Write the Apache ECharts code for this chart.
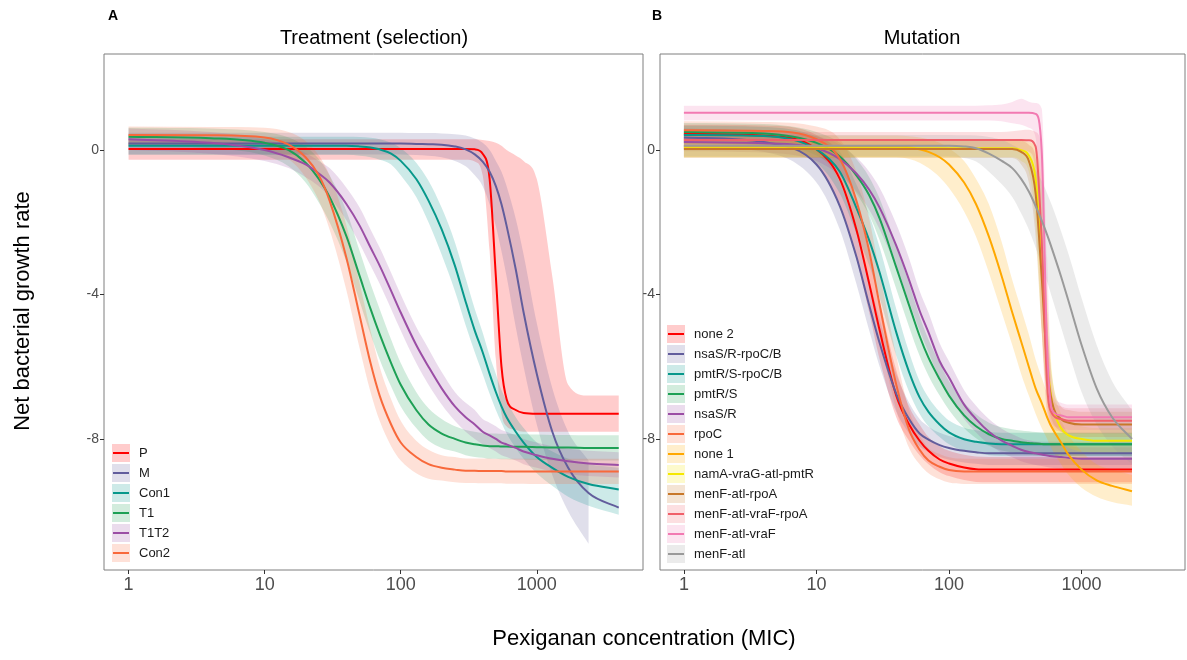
<!DOCTYPE html>
<html>
<head>
<meta charset="utf-8">
<script src="https://cdn.jsdelivr.net/npm/echarts@6/dist/echarts.min.js"></script>
<style>
  html, body { margin: 0; padding: 0; background: #ffffff; }
  #chart { width: 1187px; height: 660px; }
</style>
</head>
<body>
<div id="chart"></div>
<script>
// Pexiganan concentrations (MIC multiples) at which the fitted curves are tabulated
const conc = [1, 4, 10, 15, 20, 25, 30, 40, 50, 60, 70, 85, 100, 130, 160, 200, 250, 300, 350, 400, 450, 500, 550, 600, 700, 800, 1000, 1300, 1700, 2400, 4000];

const xTicks = [1, 10, 100, 1000];
const yTicks = [-8, -4, 0];

// Each row: [fitted growth rate, lower CI, upper CI], one row per concentration
// ---- Panel A: treatment (selection) ----
const P = [
  [0.03,-0.27,0.3],[0.03,-0.27,0.3],[0.03,-0.27,0.3],[0.03,-0.27,0.3],[0.03,-0.27,0.3],[0.03,-0.27,0.3],
  [0.03,-0.27,0.3],[0.03,-0.27,0.3],[0.03,-0.27,0.3],[0.03,-0.27,0.3],[0.03,-0.27,0.3],[0.03,-0.27,0.3],
  [0.03,-0.27,0.3],[0.03,-0.27,0.3],[0.03,-0.27,0.3],[0.03,-0.27,0.3],[0.03,-0.27,0.3],[0.03,-0.27,0.3],
  [0.02,-0.32,0.3],[-0.1,-0.7,0.28],[-0.8,-2.8,0.25],[-3.5,-5.8,0.2],[-6.0,-7.3,0.12],[-6.9,-7.65,0.0],
  [-7.2,-7.75,-0.15],[-7.28,-7.8,-0.3],[-7.3,-7.8,-0.8],[-7.3,-7.8,-3.5],[-7.3,-7.8,-6.5],[-7.3,-7.8,-6.8],[-7.3,-7.8,-6.8]
];
const M = [
  [0.18,-0.12,0.48],[0.18,-0.12,0.48],[0.18,-0.12,0.48],[0.18,-0.12,0.48],[0.18,-0.12,0.48],[0.18,-0.12,0.48],
  [0.18,-0.12,0.48],[0.18,-0.12,0.48],[0.18,-0.12,0.48],[0.18,-0.12,0.48],[0.18,-0.12,0.48],[0.18,-0.12,0.48],
  [0.18,-0.12,0.48],[0.17,-0.14,0.47],[0.16,-0.16,0.47],[0.15,-0.2,0.46],[0.1,-0.3,0.44],[0.02,-0.45,0.4],
  [-0.12,-0.7,0.32],[-0.32,-1.0,0.2],[-0.6,-1.5,0.0],[-1.0,-2.1,-0.3],[-1.5,-2.8,-0.6],[-2.1,-3.5,-1.0],
  [-3.3,-4.9,-1.9],[-4.5,-6.0,-2.9],[-6.2,-7.6,-4.8],[-7.8,-9.0,-6.6],[-8.8,-10.0,-7.8],[-9.5,-10.9,-8.6],[-9.9,null,null]
];
const Con1 = [
  [0.12,-0.13,0.37],[0.12,-0.13,0.37],[0.12,-0.13,0.37],[0.12,-0.13,0.37],[0.12,-0.13,0.37],[0.12,-0.13,0.37],
  [0.12,-0.13,0.37],[0.12,-0.13,0.37],[0.1,-0.16,0.36],[0.07,-0.2,0.34],[0.02,-0.27,0.3],[-0.1,-0.4,0.2],
  [-0.3,-0.7,0.05],[-0.8,-1.3,-0.35],[-1.4,-2.0,-0.85],[-2.2,-2.9,-1.6],[-3.2,-3.9,-2.55],[-4.2,-4.85,-3.55],
  [-5.0,-5.6,-4.4],[-5.6,-6.2,-5.05],[-6.2,-6.75,-5.7],[-6.7,-7.2,-6.2],[-7.1,-7.55,-6.65],[-7.4,-7.85,-6.95],
  [-7.8,-8.25,-7.4],[-8.1,-8.55,-7.7],[-8.5,-8.95,-8.1],[-8.8,-9.3,-8.35],[-9.05,-9.6,-8.55],[-9.25,-9.85,-8.7],[-9.4,-10.1,-8.8]
];
const T1 = [
  [0.37,0.12,0.62],[0.33,0.05,0.6],[0.2,-0.15,0.5],[0.0,-0.45,0.35],[-0.35,-0.9,0.1],[-0.8,-1.45,-0.25],
  [-1.3,-2.0,-0.7],[-2.4,-3.1,-1.7],[-3.5,-4.2,-2.8],[-4.4,-5.1,-3.7],[-5.1,-5.8,-4.4],[-5.9,-6.55,-5.25],
  [-6.5,-7.1,-5.9],[-7.2,-7.7,-6.7],[-7.6,-8.05,-7.15],[-7.85,-8.25,-7.45],[-8.0,-8.35,-7.65],[-8.1,-8.45,-7.75],
  [-8.15,-8.5,-7.8],[-8.18,-8.52,-7.84],[-8.2,-8.55,-7.85],[-8.2,-8.55,-7.85],[-8.21,-8.56,-7.86],[-8.21,-8.56,-7.86],
  [-8.22,-8.57,-7.87],[-8.22,-8.57,-7.87],[-8.23,-8.58,-7.88],[-8.24,-8.59,-7.89],[-8.24,-8.59,-7.89],[-8.25,-8.6,-7.9],[-8.25,-8.6,-7.9]
];
const T1T2 = [
  [0.3,0.0,0.6],[0.2,-0.1,0.5],[0.0,-0.3,0.3],[-0.2,-0.5,0.1],[-0.4,-0.75,-0.08],[-0.65,-1.0,-0.3],
  [-0.9,-1.3,-0.5],[-1.5,-1.95,-1.05],[-2.1,-2.6,-1.6],[-2.7,-3.2,-2.2],[-3.2,-3.7,-2.7],[-3.9,-4.4,-3.4],
  [-4.5,-5.0,-4.0],[-5.4,-5.9,-4.9],[-6.0,-6.5,-5.5],[-6.6,-7.05,-6.15],[-7.1,-7.5,-6.7],[-7.4,-7.8,-7.0],
  [-7.6,-8.0,-7.2],[-7.8,-8.15,-7.45],[-7.9,-8.25,-7.55],[-8.0,-8.35,-7.65],[-8.1,-8.45,-7.75],[-8.15,-8.5,-7.8],
  [-8.25,-8.6,-7.9],[-8.35,-8.7,-8.0],[-8.45,-8.8,-8.1],[-8.55,-8.9,-8.2],[-8.62,-8.97,-8.27],[-8.68,-9.03,-8.33],[-8.72,-9.07,-8.37]
];
const Con2 = [
  [0.42,0.15,0.65],[0.41,0.15,0.64],[0.35,0.05,0.62],[0.15,-0.25,0.5],[-0.2,-0.75,0.25],[-0.7,-1.4,-0.15],
  [-1.4,-2.2,-0.7],[-3.0,-3.9,-2.1],[-4.6,-5.5,-3.7],[-5.9,-6.7,-5.0],[-6.8,-7.5,-6.0],[-7.6,-8.2,-6.9],
  [-8.1,-8.6,-7.5],[-8.5,-8.95,-8.05],[-8.7,-9.1,-8.3],[-8.8,-9.15,-8.45],[-8.85,-9.2,-8.5],[-8.88,-9.22,-8.54],
  [-8.88,-9.22,-8.54],[-8.89,-9.23,-8.54],[-8.89,-9.23,-8.54],[-8.89,-9.23,-8.55],[-8.89,-9.23,-8.55],[-8.9,-9.24,-8.55],
  [-8.9,-9.24,-8.55],[-8.9,-9.24,-8.55],[-8.9,-9.25,-8.55],[-8.9,-9.25,-8.55],[-8.9,-9.25,-8.55],[-8.9,-9.25,-8.55],[-8.9,-9.25,-8.55]
];

// ---- Panel B: mutation (tabulated up to 2400) ----
const none2 = [
  [0.45,0.2,0.7],[0.4,0.12,0.68],[0.02,-0.4,0.42],[-0.8,-1.5,-0.15],[-2.2,-3.0,-1.4],[-3.7,-4.5,-2.9],
  [-5.0,-5.8,-4.2],[-6.8,-7.4,-6.1],[-7.6,-8.05,-7.1],[-8.05,-8.45,-7.6],[-8.33,-8.7,-7.95],[-8.57,-8.92,-8.2],
  [-8.68,-9.03,-8.33],[-8.79,-9.14,-8.44],[-8.84,-9.19,-8.49],[-8.85,-9.2,-8.5],[-8.85,-9.2,-8.5],[-8.85,-9.2,-8.5],
  [-8.85,-9.2,-8.5],[-8.85,-9.2,-8.5],[-8.85,-9.2,-8.5],[-8.85,-9.2,-8.5],[-8.85,-9.2,-8.5],[-8.85,-9.2,-8.5],
  [-8.85,-9.2,-8.5],[-8.85,-9.2,-8.5],[-8.85,-9.2,-8.5],[-8.85,-9.2,-8.5],[-8.85,-9.2,-8.5],[-8.85,-9.2,-8.5]
];
const nsaSRrpoCB = [
  [0.35,0.1,0.6],[0.22,-0.05,0.5],[-0.4,-0.9,0.05],[-1.55,-2.2,-0.9],[-2.95,-3.7,-2.25],[-4.3,-5.0,-3.6],
  [-5.35,-6.0,-4.7],[-6.75,-7.25,-6.2],[-7.45,-7.85,-7.0],[-7.85,-8.2,-7.45],[-8.02,-8.36,-7.66],[-8.17,-8.5,-7.83],
  [-8.25,-8.58,-7.92],[-8.33,-8.65,-8.0],[-8.37,-8.69,-8.05],[-8.4,-8.72,-8.08],[-8.4,-8.72,-8.08],[-8.4,-8.72,-8.08],
  [-8.4,-8.72,-8.08],[-8.4,-8.72,-8.08],[-8.4,-8.72,-8.08],[-8.4,-8.72,-8.08],[-8.4,-8.72,-8.08],[-8.4,-8.72,-8.08],
  [-8.4,-8.72,-8.08],[-8.4,-8.72,-8.08],[-8.4,-8.72,-8.08],[-8.4,-8.72,-8.08],[-8.4,-8.72,-8.08],[-8.4,-8.72,-8.08]
];
const pmtRSrpoCB = [
  [0.42,0.17,0.67],[0.39,0.14,0.64],[0.02,-0.35,0.38],[-0.6,-1.2,-0.05],[-1.6,-2.3,-0.95],[-2.5,-3.2,-1.8],
  [-3.4,-4.1,-2.7],[-5.05,-5.7,-4.4],[-6.15,-6.7,-5.6],[-6.85,-7.3,-6.4],[-7.25,-7.65,-6.85],[-7.6,-7.95,-7.25],
  [-7.82,-8.15,-7.49],[-8.01,-8.33,-7.69],[-8.08,-8.4,-7.76],[-8.13,-8.45,-7.81],[-8.15,-8.47,-7.83],[-8.15,-8.47,-7.83],
  [-8.15,-8.47,-7.83],[-8.15,-8.47,-7.83],[-8.15,-8.47,-7.83],[-8.15,-8.47,-7.83],[-8.15,-8.47,-7.83],[-8.15,-8.47,-7.83],
  [-8.15,-8.47,-7.83],[-8.15,-8.47,-7.83],[-8.15,-8.47,-7.83],[-8.15,-8.47,-7.83],[-8.15,-8.47,-7.83],[-8.15,-8.47,-7.83]
];
const pmtRS = [
  [0.5,0.25,0.75],[0.46,0.2,0.72],[0.2,-0.15,0.5],[-0.18,-0.6,0.2],[-0.7,-1.2,-0.25],[-1.25,-1.8,-0.75],
  [-1.9,-2.5,-1.35],[-3.25,-3.85,-2.65],[-4.3,-4.9,-3.7],[-5.15,-5.7,-4.6],[-5.75,-6.25,-5.25],[-6.35,-6.8,-5.9],
  [-6.8,-7.2,-6.4],[-7.35,-7.7,-7.0],[-7.65,-7.98,-7.32],[-7.87,-8.19,-7.55],[-8.0,-8.32,-7.68],[-8.05,-8.37,-7.73],
  [-8.09,-8.41,-7.77],[-8.11,-8.43,-7.79],[-8.13,-8.45,-7.81],[-8.14,-8.46,-7.82],[-8.15,-8.47,-7.83],[-8.15,-8.47,-7.83],
  [-8.15,-8.47,-7.83],[-8.15,-8.47,-7.83],[-8.15,-8.47,-7.83],[-8.15,-8.47,-7.83],[-8.15,-8.47,-7.83],[-8.15,-8.47,-7.83]
];
const nsaSR = [
  [0.22,-0.03,0.47],[0.19,-0.07,0.45],[0.05,-0.3,0.38],[-0.25,-0.7,0.15],[-0.65,-1.15,-0.2],[-1.1,-1.65,-0.6],
  [-1.6,-2.2,-1.05],[-2.65,-3.25,-2.05],[-3.6,-4.2,-3.0],[-4.45,-5.0,-3.9],[-5.05,-5.6,-4.5],[-5.85,-6.35,-5.35],
  [-6.3,-6.75,-5.85],[-7.05,-7.45,-6.65],[-7.45,-7.82,-7.08],[-7.8,-8.15,-7.45],[-8.05,-8.38,-7.72],[-8.19,-8.51,-7.87],
  [-8.3,-8.62,-7.98],[-8.36,-8.68,-8.04],[-8.4,-8.72,-8.08],[-8.43,-8.75,-8.11],[-8.46,-8.78,-8.14],[-8.48,-8.8,-8.16],
  [-8.5,-8.82,-8.18],[-8.52,-8.84,-8.2],[-8.55,-8.87,-8.23],[-8.55,-8.87,-8.23],[-8.55,-8.87,-8.23],[-8.55,-8.87,-8.23]
];
const rpoC = [
  [0.55,0.3,0.8],[0.53,0.28,0.78],[0.3,-0.1,0.65],[-0.25,-0.9,0.3],[-1.4,-2.3,-0.6],[-2.8,-3.8,-1.9],
  [-4.3,-5.2,-3.4],[-6.5,-7.2,-5.7],[-7.75,-8.25,-7.2],[-8.3,-8.7,-7.9],[-8.6,-8.95,-8.25],[-8.77,-9.12,-8.42],
  [-8.86,-9.21,-8.51],[-8.9,-9.25,-8.55],[-8.9,-9.25,-8.55],[-8.9,-9.25,-8.55],[-8.9,-9.25,-8.55],[-8.9,-9.25,-8.55],
  [-8.9,-9.25,-8.55],[-8.9,-9.25,-8.55],[-8.9,-9.25,-8.55],[-8.9,-9.25,-8.55],[-8.9,-9.25,-8.55],[-8.9,-9.25,-8.55],
  [-8.9,-9.25,-8.55],[-8.9,-9.25,-8.55],[-8.9,-9.25,-8.55],[-8.9,-9.25,-8.55],[-8.9,-9.25,-8.55],[-8.9,-9.25,-8.55]
];
const none1 = [
  [0.1,-0.2,0.4],[0.1,-0.2,0.4],[0.1,-0.2,0.4],[0.1,-0.2,0.4],[0.1,-0.2,0.4],[0.1,-0.2,0.4],
  [0.1,-0.2,0.4],[0.1,-0.2,0.4],[0.08,-0.25,0.38],[0.02,-0.35,0.35],[-0.05,-0.5,0.3],[-0.2,-0.75,0.2],
  [-0.4,-1.05,0.05],[-0.9,-1.7,-0.3],[-1.5,-2.4,-0.8],[-2.4,-3.4,-1.5],[-3.5,-4.5,-2.55],[-4.5,-5.4,-3.6],
  [-5.3,-6.2,-4.4],[-6.0,-6.8,-5.1],[-6.6,-7.3,-5.8],[-7.0,-7.7,-6.3],[-7.4,-8.0,-6.75],[-7.7,-8.3,-7.1],
  [-8.1,-8.7,-7.5],[-8.45,-9.0,-7.9],[-8.85,-9.35,-8.35],[-9.15,-9.6,-8.7],[-9.3,-9.75,-8.85],[-9.45,-9.85,-9.0]
];
const namA = [
  [0.05,-0.2,0.3],[0.05,-0.2,0.3],[0.05,-0.2,0.3],[0.05,-0.2,0.3],[0.05,-0.2,0.3],[0.05,-0.2,0.3],
  [0.05,-0.2,0.3],[0.05,-0.2,0.3],[0.05,-0.2,0.3],[0.05,-0.2,0.3],[0.05,-0.2,0.3],[0.05,-0.2,0.3],
  [0.05,-0.2,0.3],[0.05,-0.2,0.3],[0.05,-0.2,0.3],[0.05,-0.2,0.3],[0.05,-0.2,0.3],[0.05,-0.2,0.3],
  [0.0,-0.3,0.28],[-0.15,-0.6,0.22],[-0.8,-2.0,0.1],[-3.0,-5.0,-1.0],[-5.8,-7.0,-4.0],[-7.0,-7.6,-6.2],
  [-7.7,-8.1,-7.3],[-7.9,-8.25,-7.55],[-8.0,-8.35,-7.65],[-8.05,-8.4,-7.7],[-8.05,-8.4,-7.7],[-8.05,-8.4,-7.7]
];
const menFatlRpoA = [
  [0.03,-0.22,0.26],[0.03,-0.22,0.26],[0.03,-0.22,0.26],[0.03,-0.22,0.26],[0.03,-0.22,0.26],[0.03,-0.22,0.26],
  [0.03,-0.22,0.26],[0.03,-0.22,0.26],[0.03,-0.22,0.26],[0.03,-0.22,0.26],[0.03,-0.22,0.26],[0.03,-0.22,0.26],
  [0.03,-0.22,0.26],[0.03,-0.22,0.26],[0.03,-0.22,0.26],[0.03,-0.22,0.26],[0.03,-0.22,0.26],[0.03,-0.22,0.26],
  [-0.05,-0.4,0.25],[-0.3,-0.9,0.15],[-1.2,-2.4,-0.2],[-3.5,-5.0,-2.0],[-6.0,-6.9,-4.8],[-7.0,-7.5,-6.3],
  [-7.45,-7.8,-7.1],[-7.55,-7.9,-7.2],[-7.6,-7.95,-7.25],[-7.6,-7.95,-7.25],[-7.6,-7.95,-7.25],[-7.6,-7.95,-7.25]
];
const menFatlVraFRpoA = [
  [0.28,0.06,0.5],[0.28,0.06,0.5],[0.28,0.06,0.5],[0.28,0.06,0.5],[0.28,0.06,0.5],[0.28,0.06,0.5],
  [0.28,0.06,0.5],[0.28,0.06,0.5],[0.28,0.06,0.5],[0.28,0.06,0.5],[0.28,0.06,0.5],[0.28,0.06,0.5],
  [0.28,0.06,0.5],[0.28,0.06,0.5],[0.28,0.06,0.5],[0.28,0.06,0.5],[0.28,0.06,0.5],[0.28,0.04,0.52],
  [0.28,0.0,0.55],[0.27,-0.05,0.56],[0.1,-0.6,0.5],[-2.5,-5.0,0.0],[-6.5,-7.3,-4.5],[-7.3,-7.7,-6.8],
  [-7.45,-7.8,-7.1],[-7.5,-7.85,-7.15],[-7.5,-7.85,-7.15],[-7.5,-7.85,-7.15],[-7.5,-7.85,-7.15],[-7.5,-7.85,-7.15]
];
const menFatlVraF = [
  [1.03,0.82,1.23],[1.03,0.82,1.23],[1.03,0.82,1.23],[1.03,0.82,1.23],[1.03,0.82,1.23],[1.03,0.82,1.23],
  [1.03,0.82,1.23],[1.03,0.82,1.23],[1.03,0.82,1.23],[1.03,0.82,1.23],[1.03,0.82,1.23],[1.03,0.82,1.23],
  [1.03,0.82,1.23],[1.03,0.82,1.23],[1.03,0.82,1.23],[1.03,0.82,1.24],[1.03,0.8,1.26],[1.03,0.74,1.33],
  [1.03,0.7,1.42],[1.03,0.62,1.34],[1.0,0.35,1.3],[0.0,-3.0,1.15],[-5.5,-7.0,-3.0],[-7.2,-7.6,-6.6],
  [-7.35,-7.7,-7.0],[-7.4,-7.75,-7.05],[-7.4,-7.75,-7.05],[-7.4,-7.75,-7.05],[-7.4,-7.75,-7.05],[-7.4,-7.75,-7.05]
];
const menFatl = [
  [0.12,-0.18,0.42],[0.12,-0.18,0.42],[0.12,-0.18,0.42],[0.12,-0.18,0.42],[0.12,-0.18,0.42],[0.12,-0.18,0.42],
  [0.12,-0.18,0.42],[0.12,-0.18,0.42],[0.12,-0.18,0.42],[0.12,-0.18,0.42],[0.12,-0.18,0.42],[0.12,-0.18,0.42],
  [0.12,-0.18,0.42],[0.1,-0.22,0.41],[0.05,-0.32,0.4],[-0.1,-0.6,0.36],[-0.3,-0.95,0.28],[-0.5,-1.3,0.15],
  [-0.8,-1.75,0.0],[-1.15,-2.2,-0.25],[-1.55,-2.7,-0.55],[-1.95,-3.2,-0.85],[-2.35,-3.65,-1.2],[-2.75,-4.1,-1.55],
  [-3.5,-4.9,-2.25],[-4.2,-5.6,-2.9],[-5.4,-6.7,-4.1],[-6.6,-7.6,-5.4],[-7.4,-8.2,-6.4],[-8.0,-8.7,-7.2]
];

const treatmentNames = ['P', 'M', 'Con1', 'T1', 'T1T2', 'Con2'];
const treatmentRows = [P, M, Con1, T1, T1T2, Con2];
const treatmentColors = ['#FF0000', '#625D9C', '#07988B', '#1DA055', '#9B4EA5', '#F8693B'];

const mutationNames = ['none 2', 'nsaS/R-rpoC/B', 'pmtR/S-rpoC/B', 'pmtR/S', 'nsaS/R', 'rpoC', 'none 1',
  'namA-vraG-atl-pmtR', 'menF-atl-rpoA', 'menF-atl-vraF-rpoA', 'menF-atl-vraF', 'menF-atl'];
const mutationRows = [none2, nsaSRrpoCB, pmtRSrpoCB, pmtRS, nsaSR, rpoC, none1, namA, menFatlRpoA, menFatlVraFRpoA, menFatlVraF, menFatl];
const mutationColors = ['#FF0000', '#625D9C', '#07988B', '#1DA055', '#9B4EA5', '#F8693B', '#FFA800',
  '#F5E800', '#C8782A', '#F0606A', '#F27AB2', '#9A9A9A'];

const FONT = '"Liberation Sans", Arial, Helvetica, sans-serif';
const BAND_ALPHA = 0.2;

function fade(hex, a) {
  const n = parseInt(hex.slice(1), 16);
  return 'rgba(' + (n >> 16) + ',' + ((n >> 8) & 255) + ',' + (n & 255) + ',' + a + ')';
}

// Monotone cubic (Fritsch–Carlson) path through pixel points, as SVG commands
function monotoneSegments(pts, start) {
  const n = pts.length;
  const s = [], m = new Array(n);
  for (let i = 0; i < n - 1; i++) {
    s[i] = (pts[i + 1][1] - pts[i][1]) / (pts[i + 1][0] - pts[i][0]);
  }
  m[0] = s[0]; m[n - 1] = s[n - 2];
  for (let i = 1; i < n - 1; i++) m[i] = (s[i - 1] * s[i] <= 0) ? 0 : (s[i - 1] + s[i]) / 2;
  for (let i = 0; i < n - 1; i++) {
    if (s[i] === 0) { m[i] = 0; m[i + 1] = 0; continue; }
    const a = m[i] / s[i], b = m[i + 1] / s[i], h = a * a + b * b;
    if (h > 9) { const t = 3 / Math.sqrt(h); m[i] = t * a * s[i]; m[i + 1] = t * b * s[i]; }
  }
  let d = (start ? 'M' : 'L') + pts[0][0].toFixed(2) + ' ' + pts[0][1].toFixed(2);
  for (let i = 0; i < n - 1; i++) {
    const h = (pts[i + 1][0] - pts[i][0]) / 3;
    d += ' C' + (pts[i][0] + h).toFixed(2) + ' ' + (pts[i][1] + m[i] * h).toFixed(2) + ' ' +
      (pts[i + 1][0] - h).toFixed(2) + ' ' + (pts[i + 1][1] - m[i + 1] * h).toFixed(2) + ' ' +
      pts[i + 1][0].toFixed(2) + ' ' + pts[i + 1][1].toFixed(2);
  }
  return d;
}

const bandSeries = [];
const lineSeries = [];
function addGroup(panel, names, rowsList, colors) {
  names.forEach(function (name, k) {
    const rows = rowsList[k];
    const data = rows.map(function (r, i) { return [conc[i], r[0], r[1], r[2]]; });
    const banded = data.filter(function (d) { return d[2] != null && d[3] != null; });
    const base = {
      type: 'custom', coordinateSystem: 'cartesian2d', xAxisIndex: panel, yAxisIndex: panel,
      data: data, encode: { x: 0, y: [1, 2, 3] }, clip: true, silent: true, animation: false
    };
    bandSeries.push(Object.assign({}, base, {
      name: name + ' CI', z: 1,
      renderItem: function (params, api) {
        if (params.dataIndex !== 0) return null;
        const upper = banded.map(function (d) { return api.coord([d[0], d[3]]); });
        const lower = banded.map(function (d) { return api.coord([d[0], d[2]]); }).reverse();
        const path = monotoneSegments(upper, true) + ' ' + monotoneSegments(lower, false) + ' Z';
        return { type: 'path', shape: { pathData: path }, style: { fill: fade(colors[k], BAND_ALPHA), stroke: null } };
      }
    }));
    lineSeries.push(Object.assign({}, base, {
      name: name, z: 2,
      renderItem: function (params, api) {
        if (params.dataIndex !== 0) return null;
        const fit = data.map(function (d) { return api.coord([d[0], d[1]]); });
        return { type: 'path', shape: { pathData: monotoneSegments(fit, true) },
          style: { fill: null, stroke: colors[k], lineWidth: 2, lineJoin: 'round' } };
      }
    }));
  });
}
addGroup(0, treatmentNames, treatmentRows, treatmentColors);
addGroup(1, mutationNames, mutationRows, mutationColors);

// legend keys: filled CI swatch with the fit line through it
function legendGraphics(names, colors, x0, yCenter0, step) {
  const out = [];
  names.forEach(function (name, k) {
    const yc = yCenter0 + k * step;
    out.push({ type: 'rect', shape: { x: x0, y: yc - 9, width: 18, height: 18 },
      style: { fill: fade(colors[k], BAND_ALPHA) }, z: 10 });
    out.push({ type: 'line', shape: { x1: x0 + 1, y1: yc, x2: x0 + 17, y2: yc },
      style: { stroke: colors[k], lineWidth: 2 }, z: 11 });
    out.push({ type: 'text', x: x0 + 27, y: yc,
      style: { text: name, font: '13px ' + FONT, fill: '#1a1a1a', verticalAlign: 'middle' }, z: 11 });
  });
  return out;
}

const grids = [
  { left: 104, top: 54, width: 539, height: 516 },
  { left: 660, top: 54, width: 525, height: 516 }
];

function xAxisFor(i) {
  return {
    type: 'log', logBase: 10, gridIndex: i, min: 0.66, max: 6030,
    axisLine: { show: false, onZero: false },
    axisTick: { show: true, length: 4, lineStyle: { color: '#333333' }, customValues: xTicks },
    axisLabel: { customValues: xTicks, color: '#4D4D4D', fontSize: 18, fontFamily: FONT, margin: 6,
      formatter: function (v) { return String(Math.round(v)); } },
    splitLine: { show: false }
  };
}
function yAxisFor(i) {
  return {
    type: 'value', gridIndex: i, min: -11.63, max: 2.66,
    axisLine: { show: false, onZero: false },
    axisTick: { show: true, length: 4, lineStyle: { color: '#333333' }, customValues: yTicks },
    axisLabel: { customValues: yTicks, color: '#4D4D4D', fontSize: 14, fontFamily: FONT, margin: 5 },
    splitLine: { show: false }
  };
}

const chart = echarts.init(document.getElementById('chart'), null, { renderer: 'canvas' });
chart.setOption({
  animation: false,
  backgroundColor: '#ffffff',
  grid: grids.map(function (g) {
    return Object.assign({ show: true, borderColor: '#7F7F7F', borderWidth: 1, backgroundColor: 'transparent' }, g);
  }),
  xAxis: [xAxisFor(0), xAxisFor(1)],
  yAxis: [yAxisFor(0), yAxisFor(1)],
  series: bandSeries.concat(lineSeries),
  graphic: [
    { type: 'text', x: 108, y: 16, style: { text: 'A', font: 'bold 14px ' + FONT, fill: '#000', verticalAlign: 'middle' } },
    { type: 'text', x: 652, y: 16, style: { text: 'B', font: 'bold 14px ' + FONT, fill: '#000', verticalAlign: 'middle' } },
    { type: 'text', x: 374, y: 38, style: { text: 'Treatment (selection)', font: '20px ' + FONT, fill: '#000', align: 'center', verticalAlign: 'middle' } },
    { type: 'text', x: 922, y: 38, style: { text: 'Mutation', font: '20px ' + FONT, fill: '#000', align: 'center', verticalAlign: 'middle' } },
    { type: 'text', x: 644, y: 639, style: { text: 'Pexiganan concentration (MIC)', font: '22px ' + FONT, fill: '#000', align: 'center', verticalAlign: 'middle' } },
    { type: 'text', x: 23, y: 311, rotation: Math.PI / 2, style: { text: 'Net bacterial growth rate', font: '22px ' + FONT, fill: '#000', align: 'center', verticalAlign: 'middle' } }
  ].concat(legendGraphics(treatmentNames, treatmentColors, 112, 453, 20))
   .concat(legendGraphics(mutationNames, mutationColors, 667, 334, 20))
});
</script>
</body>
</html>
